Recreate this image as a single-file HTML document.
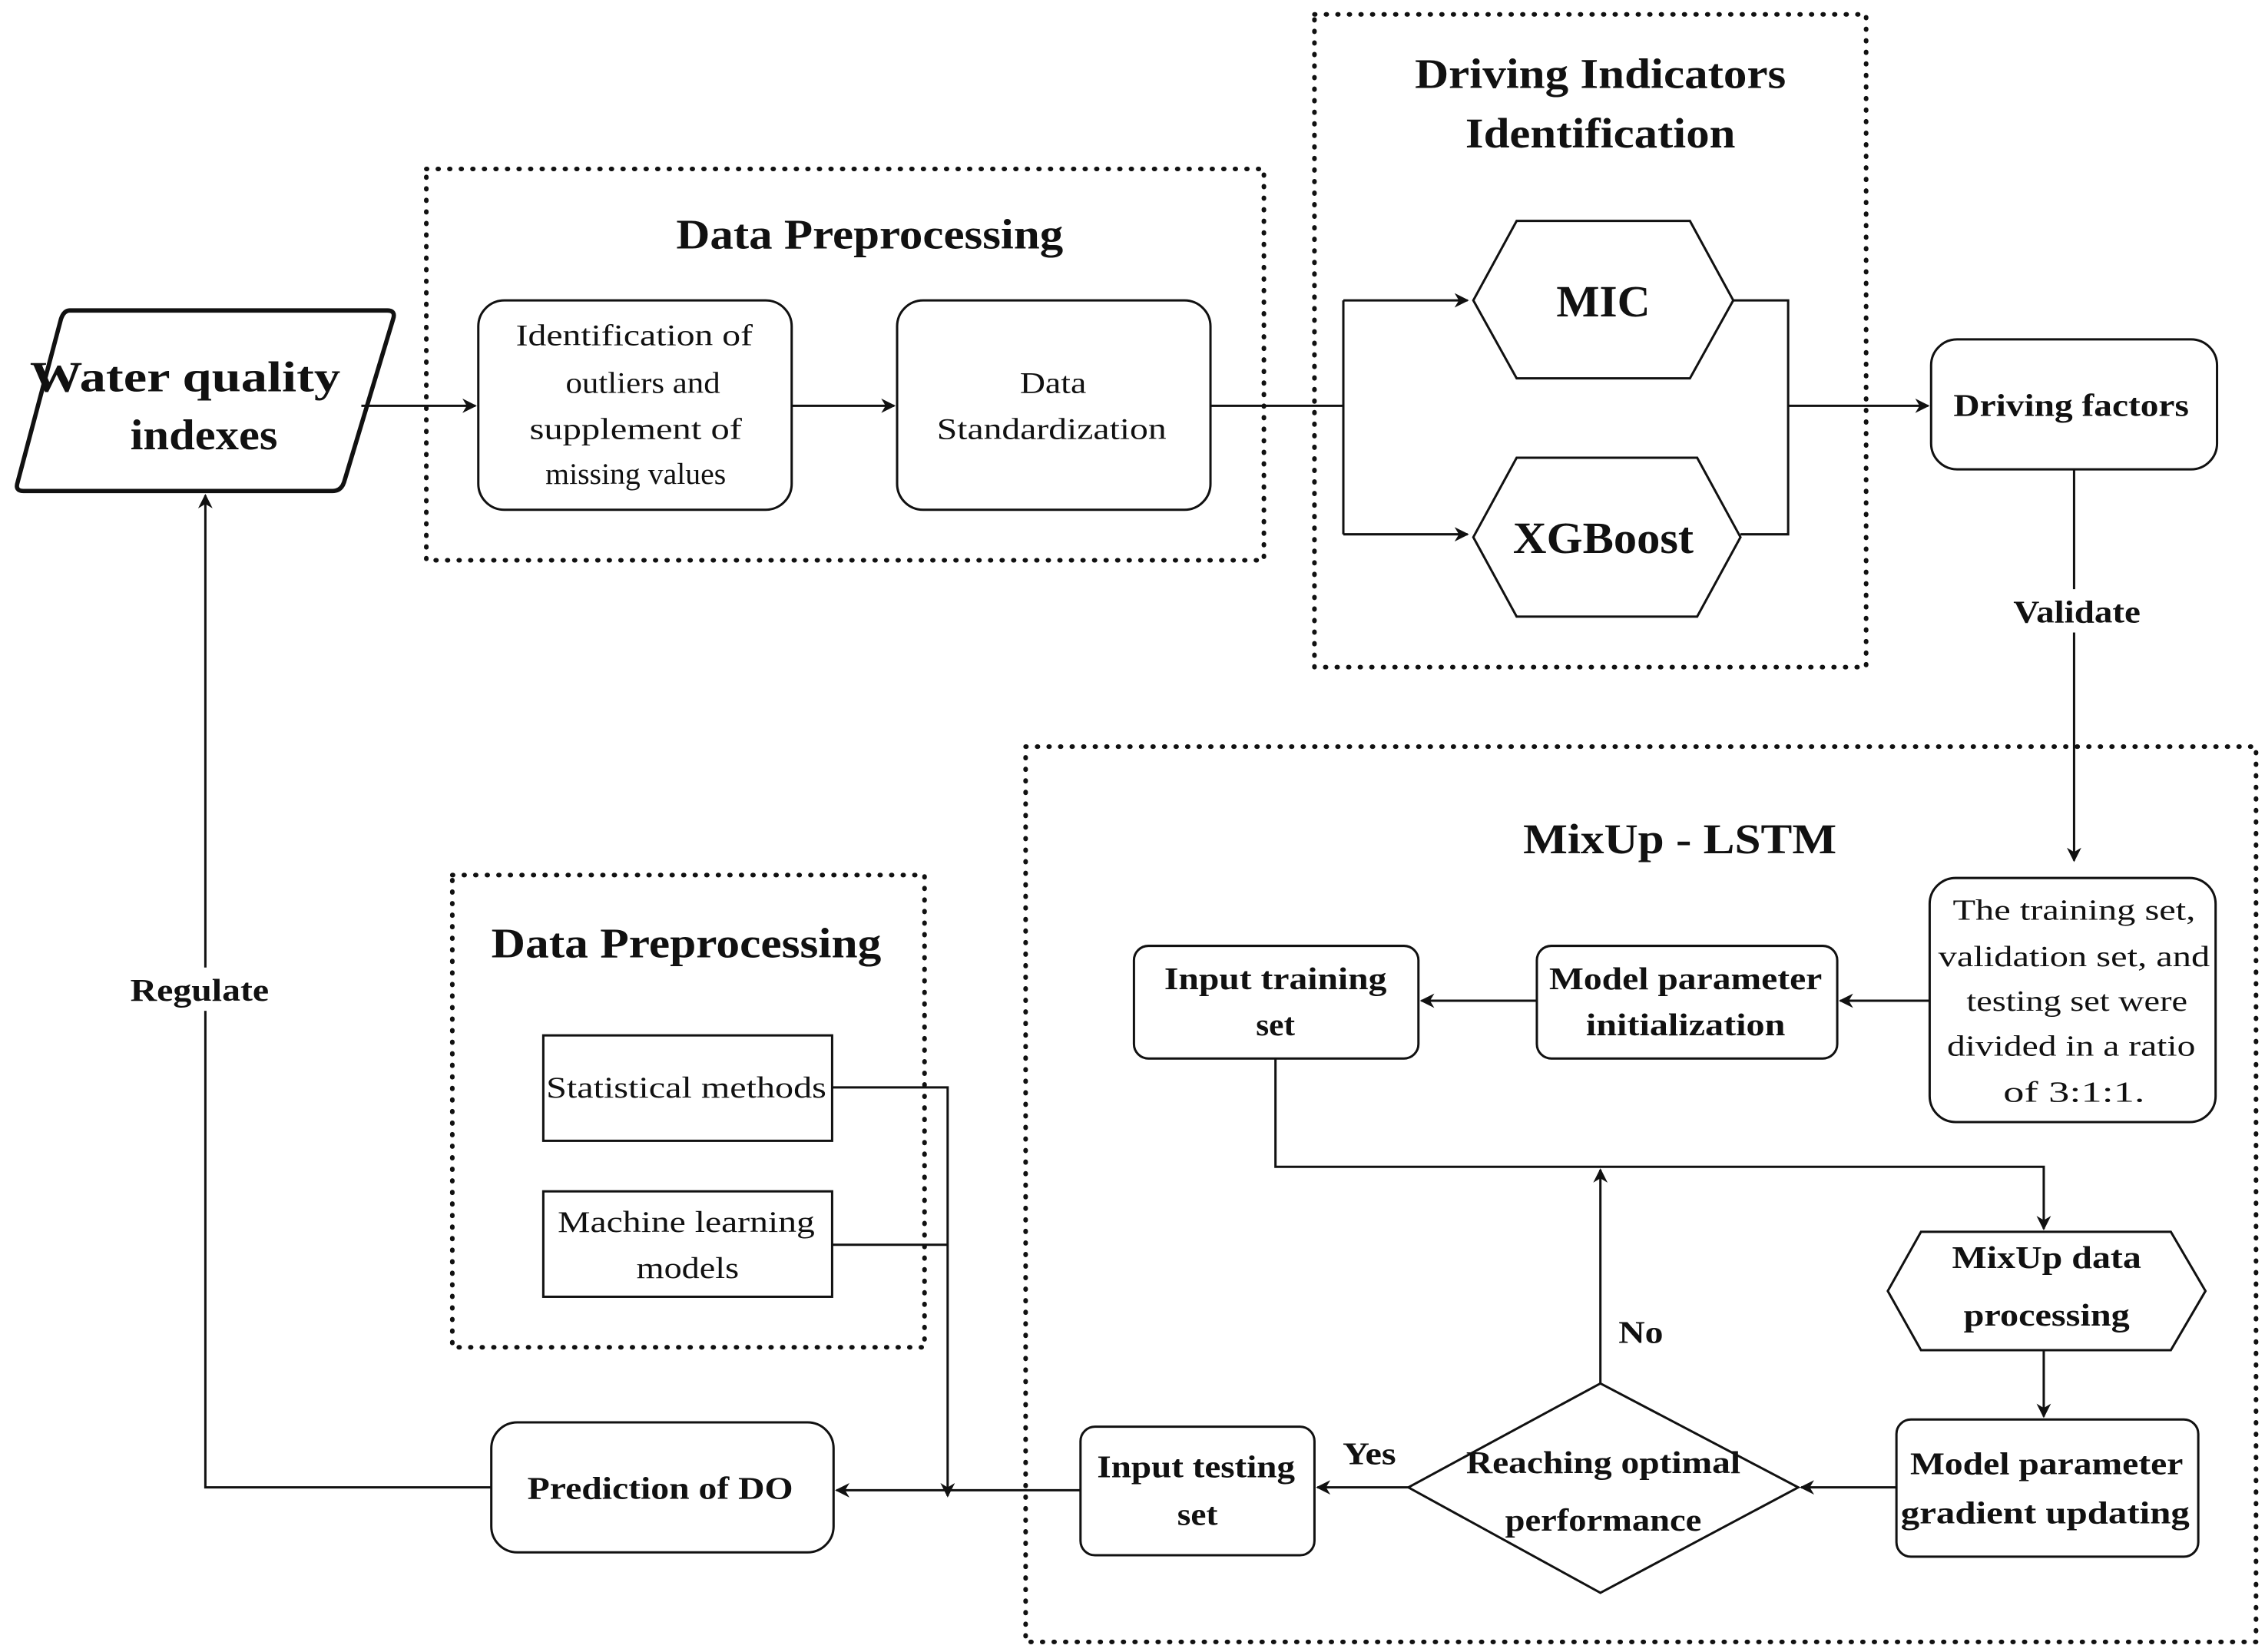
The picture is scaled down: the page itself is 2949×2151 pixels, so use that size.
<!DOCTYPE html>
<html><head><meta charset="utf-8"><style>
html,body{margin:0;padding:0;background:#fff;}
svg{display:block;}
text{font-family:"Liberation Serif",serif;fill:#111;text-anchor:middle;}
.b{font-weight:bold;}
</style></head><body>
<svg width="2949" height="2151" viewBox="0 0 1568 1144" xmlns="http://www.w3.org/2000/svg">
<defs><marker id="a" markerWidth="10" markerHeight="10" refX="9" refY="5" orient="auto" markerUnits="userSpaceOnUse"><path d="M0,0 L10,5 L0,10 L3,5 Z" fill="#111"/></marker></defs>
<g fill="none" stroke="#111" stroke-width="3.2" stroke-dasharray="0.5,7.5" stroke-linecap="round">
<rect x="295" y="117" width="580" height="271"/>
<rect x="910" y="10" width="382" height="452"/>
<rect x="710" y="517" width="852" height="620"/>
<rect x="313" y="606" width="327" height="327"/>
</g>
<g fill="#fff" stroke="#111" stroke-width="1.6">
<path d="M48,215 L268,215 Q274,215 272,221 L238,334 Q236,340 230,340 L16,340 Q10,340 12,334 L42,221 Q44,215 48,215 Z" stroke-width="3"/>
<rect x="331" y="208" width="217" height="145" rx="18"/>
<rect x="621" y="208" width="217" height="145" rx="18"/>
<polygon points="1020,208 1050,153 1170,153 1200,208 1170,262 1050,262"/>
<polygon points="1020,372 1050,317 1175,317 1205,372 1175,427 1050,427"/>
<rect x="1337" y="235" width="198" height="90" rx="18"/>
<rect x="1336" y="608" width="198" height="169" rx="18"/>
<rect x="1064" y="655" width="208" height="78" rx="10"/>
<rect x="785" y="655" width="197" height="78" rx="10"/>
<polygon points="1307,894 1330,853 1503,853 1527,894 1503,935 1330,935"/>
<rect x="1313" y="983" width="209" height="95" rx="10"/>
<polygon points="975,1030 1108,958 1245,1030 1108,1103"/>
<rect x="748" y="988" width="162" height="89" rx="10"/>
<rect x="340" y="985" width="237" height="90" rx="18"/>
<rect x="376" y="717" width="200" height="73"/>
<rect x="376" y="825" width="200" height="73"/>
</g>
<g fill="none" stroke="#111" stroke-width="1.6">
<path d="M250,281 H329" marker-end="url(#a)"/>
<path d="M548,281 H619" marker-end="url(#a)"/>
<path d="M838,281 H930"/>
<path d="M930,208 V370"/>
<path d="M930,208 H1016" marker-end="url(#a)"/>
<path d="M930,370 H1016" marker-end="url(#a)"/>
<path d="M1200,208 H1238 V370 H1205"/>
<path d="M1238,281 H1335" marker-end="url(#a)"/>
<path d="M1436,325 V596" marker-end="url(#a)"/>
<path d="M1336,693 H1274" marker-end="url(#a)"/>
<path d="M1064,693 H984" marker-end="url(#a)"/>
<path d="M883,733 V808 H1415 V851" marker-end="url(#a)"/>
<path d="M1415,935 V981" marker-end="url(#a)"/>
<path d="M1313,1030 H1247" marker-end="url(#a)"/>
<path d="M1108,958 V810" marker-end="url(#a)"/>
<path d="M975,1030 H912" marker-end="url(#a)"/>
<path d="M748,1032 H579" marker-end="url(#a)"/>
<path d="M340,1030 H142 V343" marker-end="url(#a)"/>
<path d="M576,753 H656 V1036" marker-end="url(#a)"/>
<path d="M576,862 H656"/>
</g>
<rect x="1388" y="408" width="96" height="30" fill="#fff"/>
<rect x="86" y="670" width="106" height="30" fill="#fff"/>
<g lengthAdjust="spacingAndGlyphs">
<text class="b" x="128" y="271" font-size="30" textLength="215" lengthAdjust="spacingAndGlyphs">Water quality</text>
<text class="b" x="141" y="311" font-size="30" textLength="102" lengthAdjust="spacingAndGlyphs">indexes</text>
<text class="b" x="602" y="172" font-size="29" textLength="268" lengthAdjust="spacingAndGlyphs">Data Preprocessing</text>
<text x="439" y="239" font-size="21" textLength="164" lengthAdjust="spacingAndGlyphs">Identification of</text>
<text x="445" y="272" font-size="21" textLength="107" lengthAdjust="spacingAndGlyphs">outliers and</text>
<text x="440" y="304" font-size="21" textLength="147" lengthAdjust="spacingAndGlyphs">supplement of</text>
<text x="440" y="335" font-size="21" textLength="125" lengthAdjust="spacingAndGlyphs">missing values</text>
<text x="729" y="272" font-size="21" textLength="46" lengthAdjust="spacingAndGlyphs">Data</text>
<text x="728" y="304" font-size="21" textLength="159" lengthAdjust="spacingAndGlyphs">Standardization</text>
<text class="b" x="1108" y="61" font-size="29" textLength="257" lengthAdjust="spacingAndGlyphs">Driving Indicators</text>
<text class="b" x="1108" y="102" font-size="29" textLength="187" lengthAdjust="spacingAndGlyphs">Identification</text>
<text class="b" x="1110" y="219" font-size="31" textLength="65" lengthAdjust="spacingAndGlyphs">MIC</text>
<text class="b" x="1110" y="383" font-size="31" textLength="125" lengthAdjust="spacingAndGlyphs">XGBoost</text>
<text class="b" x="1434" y="288" font-size="22" textLength="163" lengthAdjust="spacingAndGlyphs">Driving factors</text>
<text class="b" x="1438" y="431" font-size="22" textLength="88" lengthAdjust="spacingAndGlyphs">Validate</text>
<text class="b" x="1163" y="591" font-size="29" textLength="217" lengthAdjust="spacingAndGlyphs">MixUp - LSTM</text>
<text x="1436" y="637" font-size="20" textLength="168" lengthAdjust="spacingAndGlyphs">The training set,</text>
<text x="1436" y="669" font-size="20" textLength="188" lengthAdjust="spacingAndGlyphs">validation set, and</text>
<text x="1438" y="700" font-size="20" textLength="153" lengthAdjust="spacingAndGlyphs">testing set were</text>
<text x="1434" y="731" font-size="20" textLength="172" lengthAdjust="spacingAndGlyphs">divided in a ratio</text>
<text x="1436" y="763" font-size="20" textLength="98" lengthAdjust="spacingAndGlyphs">of 3:1:1.</text>
<text class="b" x="1167" y="685" font-size="22" textLength="189" lengthAdjust="spacingAndGlyphs">Model parameter</text>
<text class="b" x="1167" y="717" font-size="22" textLength="138" lengthAdjust="spacingAndGlyphs">initialization</text>
<text class="b" x="883" y="685" font-size="22" textLength="154" lengthAdjust="spacingAndGlyphs">Input training</text>
<text class="b" x="883" y="717" font-size="22" textLength="27" lengthAdjust="spacingAndGlyphs">set</text>
<text class="b" x="1417" y="878" font-size="22" textLength="131" lengthAdjust="spacingAndGlyphs">MixUp data</text>
<text class="b" x="1417" y="918" font-size="22" textLength="115" lengthAdjust="spacingAndGlyphs">processing</text>
<text class="b" x="1417" y="1021" font-size="22" textLength="189" lengthAdjust="spacingAndGlyphs">Model parameter</text>
<text class="b" x="1416" y="1055" font-size="22" textLength="200" lengthAdjust="spacingAndGlyphs">gradient updating</text>
<text class="b" x="1110" y="1020" font-size="22" textLength="190" lengthAdjust="spacingAndGlyphs">Reaching optimal</text>
<text class="b" x="1110" y="1060" font-size="22" textLength="136" lengthAdjust="spacingAndGlyphs">performance</text>
<text class="b" x="1136" y="930" font-size="22" textLength="31" lengthAdjust="spacingAndGlyphs">No</text>
<text class="b" x="948" y="1014" font-size="22" textLength="37" lengthAdjust="spacingAndGlyphs">Yes</text>
<text class="b" x="828" y="1023" font-size="22" textLength="137" lengthAdjust="spacingAndGlyphs">Input testing</text>
<text class="b" x="829" y="1056" font-size="22" textLength="28" lengthAdjust="spacingAndGlyphs">set</text>
<text class="b" x="457" y="1038" font-size="22" textLength="184" lengthAdjust="spacingAndGlyphs">Prediction of DO</text>
<text class="b" x="138" y="693" font-size="22" textLength="96" lengthAdjust="spacingAndGlyphs">Regulate</text>
<text class="b" x="475" y="663" font-size="29" textLength="270" lengthAdjust="spacingAndGlyphs">Data Preprocessing</text>
<text x="475" y="760" font-size="21" textLength="194" lengthAdjust="spacingAndGlyphs">Statistical methods</text>
<text x="475" y="853" font-size="21" textLength="178" lengthAdjust="spacingAndGlyphs">Machine learning</text>
<text x="476" y="885" font-size="21" textLength="71" lengthAdjust="spacingAndGlyphs">models</text>
</g>
</svg>
</body></html>
